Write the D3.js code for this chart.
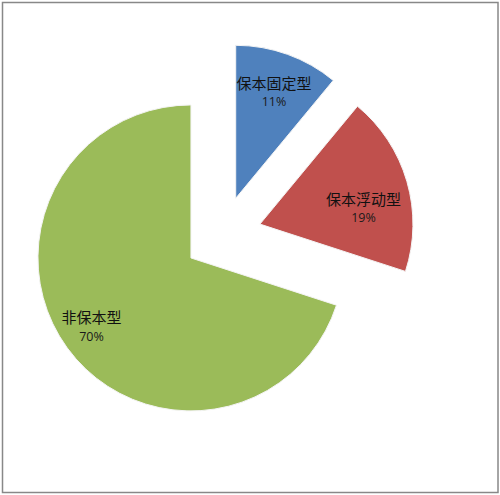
<!DOCTYPE html>
<html>
<head>
<meta charset="utf-8">
<script src="https://cdn.jsdelivr.net/npm/d3@7/dist/d3.min.js"></script>
<style>
  body { margin: 0; background: #fff; }
  .name { font-family: "Noto Sans CJK SC", sans-serif; font-size: 15px; fill: #111; }
  .pct { font-family: "Open Sans", Lato, sans-serif; font-size: 12.5px; fill: #1a1a1a; }
</style>
</head>
<body>
<div id="chart"></div>
<script>
// data
var categories = ["保本固定型", "保本浮动型", "非保本型"];
var shares = [11, 19, 70];
var colors = ["#4F81BD", "#C0504D", "#9BBB59"];

var svgWidth = 500;
var svgHeight = 495;

var cx = 222.5, cy = 235;   // pie centre before explosion
var radius = 153;
var explode = 39;
var labelRadius = 113;

// small hand nudges so labels sit where excel put them
var labelNudge = [[0, 0], [-5, 15], [-8, 2]];

var svg = d3.select("#chart").append("svg")
    .attr("width", svgWidth)
    .attr("height", svgHeight);

// chart frame
svg.append("rect")
    .attr("x", 2.5)
    .attr("y", 2.5)
    .attr("width", 495.5)
    .attr("height", 490)
    .attr("fill", "#fff")
    .attr("stroke", "#888")
    .attr("stroke-width", 1.5);

var table = categories.map(function(c, i) {
    return { name: c, value: shares[i], color: colors[i] };
});

var pie = d3.pie()
    .value(d => d.value)
    .sort(null);

var arc = d3.arc()
    .innerRadius(0)
    .outerRadius(radius);

var arcs = pie(table);

var pieGroup = svg.append("g")
    .attr("transform", `translate(${cx}, ${cy})`);

var slices = pieGroup.selectAll(".slice")
    .data(arcs)
    .enter()
    .append("g")
    .classed("slice", true)
    .attr("transform", function(d) {
        var mid = (d.startAngle + d.endAngle) / 2;
        return `translate(${explode * Math.sin(mid)}, ${-explode * Math.cos(mid)})`;
    });

slices.append("path")
    .attr("d", arc)
    .attr("fill", d => d.data.color)
    .attr("stroke", "#f4f4f4")
    .attr("stroke-width", 1);

var labels = slices.append("g")
    .attr("transform", function(d, i) {
        var mid = (d.startAngle + d.endAngle) / 2;
        var x = labelRadius * Math.sin(mid) + labelNudge[i][0];
        var y = -labelRadius * Math.cos(mid) + labelNudge[i][1];
        return `translate(${x}, ${y})`;
    });

labels.append("text")
    .classed("name", true)
    .attr("text-anchor", "middle")
    .attr("dominant-baseline", "central")
    .attr("y", -9.5)
    .text(d => d.data.name);

labels.append("text")
    .classed("pct", true)
    .attr("text-anchor", "middle")
    .attr("dominant-baseline", "central")
    .attr("y", 10)
    .text(d => d.data.value + "%");
</script>
</body>
</html>
